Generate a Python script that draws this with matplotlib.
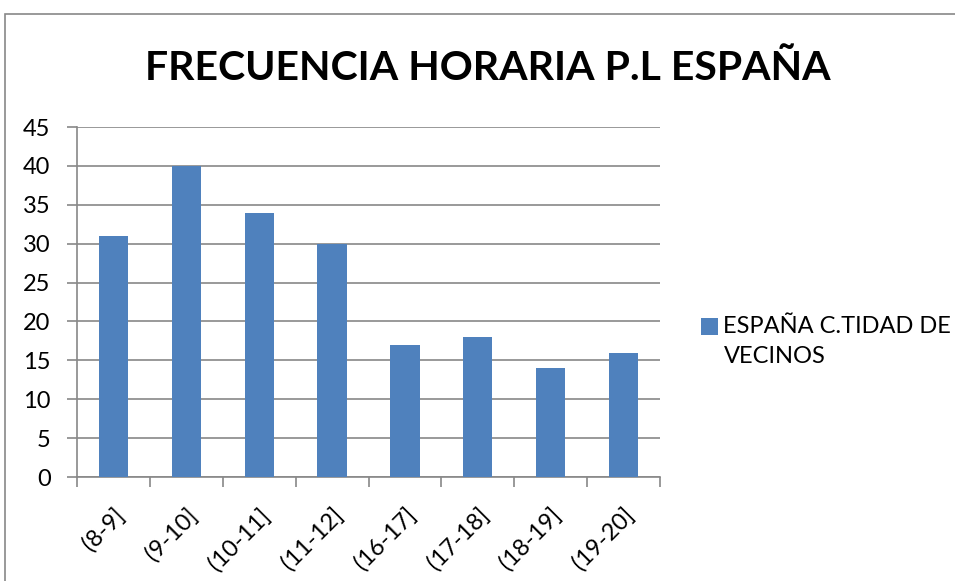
import matplotlib.pyplot as plt
from matplotlib.patches import Rectangle
from matplotlib.container import BarContainer
from matplotlib.legend_handler import HandlerPatch

# data
franjas = ['(8-9]', '(9-10]', '(10-11]', '(11-12]', '(16-17]', '(17-18]', '(18-19]', '(19-20]']
vecinos = [31, 40, 34, 30, 17, 18, 14, 16]
serie = 'ESPAÑA C.TIDAD DE\nVECINOS'
titulo = 'FRECUENCIA HORARIA P.L ESPAÑA'

plt.rcParams['font.family'] = ['Lato', 'DejaVu Sans']


# legend square sits next to the first line of the label, like Excel does
class HandlerFirstLine(HandlerPatch):
    def __init__(self, shift):
        super().__init__(update_func=lambda p, orig: p.update_from(orig[0]))
        self.shift = shift

    def create_artists(self, legend, orig_handle, xdescent, ydescent, width, height, fontsize, trans):
        p = Rectangle((-xdescent, -ydescent + self.shift * fontsize), width, height)
        self.update_prop(p, orig_handle, legend)
        p.set_transform(trans)
        return [p]


fig = plt.figure(figsize=(9.55, 5.81), dpi=100)
W, H = 955, 581

# outer chart frame (cut off at the right and bottom in the reference)
fig.patches.append(Rectangle((5 / W, -0.1), 1.2, 1 - 14 / H + 0.1, transform=fig.transFigure,
                             fill=False, edgecolor='#888888', linewidth=1.2))

ax = fig.add_axes([77 / W, 1 - 477 / H, (660 - 77) / W, (477 - 127) / H])

x = range(len(franjas))
ax.bar(x, vecinos, width=0.4, color='#4F81BD', label=serie, zorder=3)

ax.set_xlim(-0.5, len(franjas) - 0.5)
ax.set_ylim(0, 45)
ax.set_yticks(range(0, 46, 5))
ax.yaxis.grid(True, color='#888888', linewidth=1.2, zorder=0)
ax.tick_params(axis='y', length=7, width=1.2, color='#888888', labelsize=17, pad=12)

# category ticks sit at the boundaries, labels at the centres
ax.set_xticks([i - 0.5 for i in range(len(franjas) + 1)])
ax.set_xticklabels([])
ax.set_xticks(list(x), minor=True)
ax.set_xticklabels(franjas, minor=True, rotation=45, ha='right', rotation_mode='anchor', fontsize=17)
ax.tick_params(axis='x', which='major', length=7, width=1.2, color='#888888')
ax.tick_params(axis='x', which='minor', length=0, pad=20)

for side in ['top', 'right']:
    ax.spines[side].set_visible(False)
for side in ['left', 'bottom']:
    ax.spines[side].set_color('#888888')
    ax.spines[side].set_linewidth(1.2)

fig.text(488 / W, 1 - 68 / H, titulo, ha='center', va='center', fontsize=29.5, fontweight='bold')

leg = fig.legend(loc='upper left', bbox_to_anchor=(701 / W, 1 - 316 / H), frameon=False,
                 fontsize=17, handlelength=0.7, handleheight=0.7, handletextpad=0.25,
                 borderpad=0, borderaxespad=0,
                 handler_map={BarContainer: HandlerFirstLine(0.65)})
for t in leg.get_texts():
    t.set_linespacing(1.55)

fig.savefig('out.png', dpi=100)
